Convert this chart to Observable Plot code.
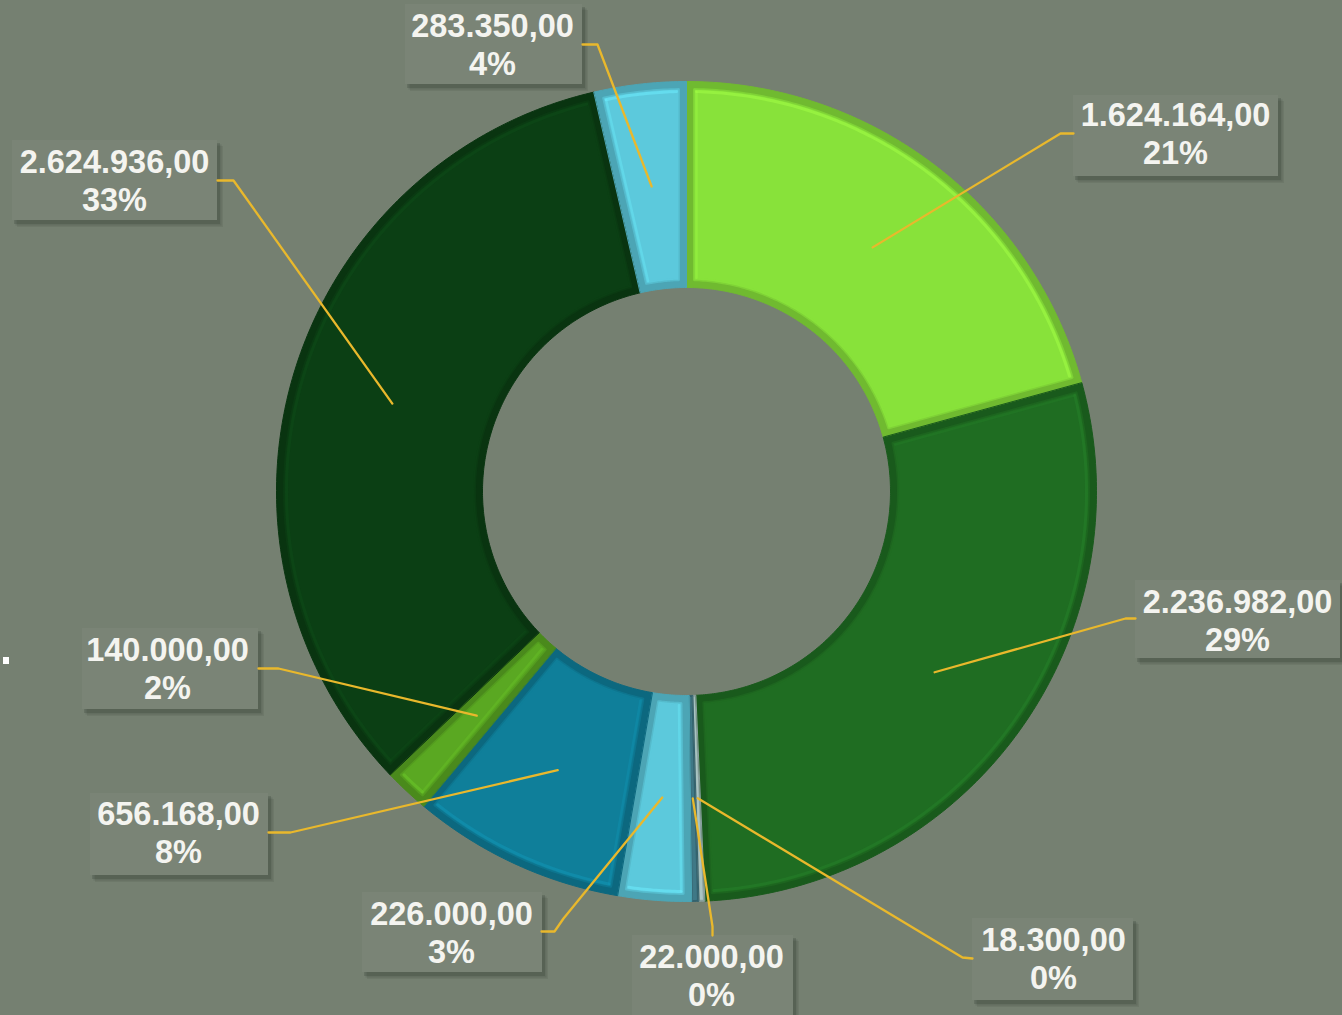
<!DOCTYPE html>
<html>
<head>
<meta charset="utf-8">
<script src="https://cdn.jsdelivr.net/npm/d3@7"></script>
<script src="https://cdn.jsdelivr.net/npm/@observablehq/plot@0.6"></script>
<style>
  html, body { margin: 0; padding: 0; background: #758071; }
  #chart { position: relative; width: 1342px; height: 1015px; overflow: hidden; }
  #chart svg { position: absolute; left: 0; top: 0; }
  .mark-dot { position: absolute; left: 3px; top: 657px; width: 6px; height: 7px; background: #ffffff; }
</style>
</head>
<body>
<div id="chart"><div class="mark-dot"></div></div>
<script>
// ---------- data (clockwise from 12 o'clock) ----------
const values = [1624164, 2236982, 18300, 22000, 226000, 656168, 140000, 2624936, 283350];
const valueLabels = ["1.624.164,00", "2.236.982,00", "18.300,00", "22.000,00", "226.000,00", "656.168,00", "140.000,00", "2.624.936,00", "283.350,00"];
const percentLabels = ["21%", "29%", "0%", "0%", "3%", "8%", "2%", "33%", "4%"];
const sliceColors = ["#88e23a", "#1f6d22", "#a9c4c2", "#3f7886", "#5cc9dc", "#0f7f9a", "#5aa822", "#0b3f14", "#5cc9dc"];

// ---------- layout (pixels) ----------
const CX = 686, CY = 491, R_OUT = 410, R_IN = 204;
const labelLayout = [
  {box: [1073, 1278, 95, 176],  tx: 1175, ty: 132, elbow: [[1073, 133], [1060, 133]]},
  {box: [1135, 1340, 580, 658], tx: 1237, ty: 619, elbow: [[1135, 618], [1125, 618]]},
  {box: [972, 1133, 918, 1000], tx: 1053, ty: 957, elbow: [[972, 958], [962, 957]]},
  {box: [632, 793, 935, 1030],  tx: 711,  ty: 974, elbow: [[712, 935], [712, 926]]},
  {box: [362, 542, 892, 972],   tx: 451,  ty: 931, elbow: [[541, 931], [554, 931], [563, 918]]},
  {box: [90, 268, 793, 875],    tx: 178,  ty: 831, elbow: [[268, 832], [290, 832]]},
  {box: [82, 258, 628, 709],    tx: 167,  ty: 667, elbow: [[258, 668], [278, 668]]},
  {box: [12, 217, 140, 220],    tx: 114,  ty: 179, elbow: [[217, 180], [233, 180]]},
  {box: [405, 582, 4, 84],      tx: 492,  ty: 43,  elbow: [[582, 44], [597, 44]]}
];

// ---------- geometry from data ----------
const arcs = d3.pie().sort(null).value(d => d)(values);

function ringPts(a0, a1, r0, r1, inset) {
  const pts = [];
  const ro = r1 - inset, ri = r0 + inset;
  const span = a1 - a0;
  const off = r => Math.min(Math.asin(Math.min(1, inset / r)), span * 0.3);
  const n = Math.max(4, Math.ceil(span * 90));
  const ao0 = a0 + off(ro), ao1 = a1 - off(ro);
  for (let k = 0; k <= n; k++) {
    const a = ao0 + (ao1 - ao0) * k / n;
    pts.push({x: CX + ro * Math.sin(a), y: CY - ro * Math.cos(a)});
  }
  const ai0 = a0 + off(ri), ai1 = a1 - off(ri);
  for (let k = n; k >= 0; k--) {
    const a = ai0 + (ai1 - ai0) * k / n;
    pts.push({x: CX + ri * Math.sin(a), y: CY - ri * Math.cos(a)});
  }
  return pts;
}
function arcLine(a0, a1, r, inset) {
  const span = a1 - a0;
  const off = Math.min(Math.asin(Math.min(1, inset / r)), span * 0.3);
  const n = Math.max(4, Math.ceil(span * 90));
  const pts = [];
  for (let k = 0; k <= n; k++) {
    const a = a0 + off + (span - 2 * off) * k / n;
    pts.push({x: CX + r * Math.sin(a), y: CY - r * Math.cos(a)});
  }
  return pts;
}
function radialLine(a, r0, r1, inset, sign) {
  const pts = [];
  for (const r of [r0 + inset, r1 - inset]) {
    const aa = a + sign * Math.asin(Math.min(1, inset / r));
    pts.push({x: CX + r * Math.sin(aa), y: CY - r * Math.cos(aa)});
  }
  return pts;
}

const sliceMarks = arcs.flatMap((arc, i) => {
  const base = d3.color(sliceColors[i]);
  const edge = base.darker(0.55).formatHex();
  const light = base.brighter(0.5).formatHex();
  const a0 = arc.startAngle, a1 = arc.endAngle;
  const big = (a1 - a0) > 0.05;
  const marks = [
    Plot.line(ringPts(a0, a1, R_IN, R_OUT, 0), {x: "x", y: "y", curve: "linear-closed", fill: edge, stroke: edge, strokeWidth: 1}),
  ];
  if (big) {
    marks.push(Plot.line(ringPts(a0, a1, R_IN, R_OUT, 8), {x: "x", y: "y", curve: "linear-closed", fill: sliceColors[i], stroke: sliceColors[i], strokeWidth: 3, strokeOpacity: 0.6}));
    marks.push(Plot.line(arcLine(a0, a1, R_OUT - 10, 10), {x: "x", y: "y", stroke: light, strokeWidth: 3, strokeOpacity: 0.5}));
    marks.push(Plot.line(radialLine(a0, R_IN, R_OUT, 10, 1), {x: "x", y: "y", stroke: light, strokeWidth: 2.5, strokeOpacity: 0.35}));
  } else {
    marks.push(Plot.line(ringPts(a0, a1, R_IN, R_OUT, 1.5), {x: "x", y: "y", curve: "linear-closed", fill: sliceColors[i], stroke: "none"}));
  }
  return marks;
});

const centroids = arcs.map(arc => {
  const m = (arc.startAngle + arc.endAngle) / 2, r = (R_IN + R_OUT) / 2;
  return [CX + r * Math.sin(m), CY - r * Math.cos(m)];
});
const leaderPts = labelLayout.flatMap((L, i) =>
  [...L.elbow, centroids[i]].map(([x, y]) => ({i, x, y}))
);
const boxes = labelLayout.map((L, i) => ({i, x1: L.box[0], x2: L.box[1], y1: L.box[2], y2: L.box[3]}));
const texts = labelLayout.map((L, i) => ({x: L.tx, y: L.ty, text: valueLabels[i] + "\n" + percentLabels[i]}));

const shadowLayers = [[6, 0.10], [4.5, 0.14], [3, 0.2]].map(([o, a]) =>
  Plot.rect(boxes, {x1: d => d.x1 + o - 1, x2: d => d.x2 + o, y1: d => d.y1 + o, y2: d => d.y2 + o + 1, fill: "#2a3028", fillOpacity: a})
);

const svg = Plot.plot({
  width: 1342, height: 1015, margin: 0,
  x: {domain: [0, 1342], axis: null},
  y: {domain: [0, 1015], reverse: true, axis: null},
  style: {background: "transparent", overflow: "visible"},
  marks: [
    ...sliceMarks,
    ...shadowLayers,
    Plot.rect(boxes, {x1: "x1", x2: "x2", y1: "y1", y2: "y2", fill: "#7a8476"}),
    Plot.line(leaderPts, {x: "x", y: "y", z: "i", stroke: "#e9b82c", strokeWidth: 2.3}),
    Plot.text(texts, {x: "x", y: "y", text: "text", fontSize: 32.5, fontWeight: "bold",
      fontFamily: '"Liberation Sans", Arial, sans-serif', fill: "#f4f4f0",
      lineHeight: 1.17, lineAnchor: "middle", textAnchor: "middle"})
  ]
});

document.getElementById("chart").appendChild(svg);
</script>
</body>
</html>
